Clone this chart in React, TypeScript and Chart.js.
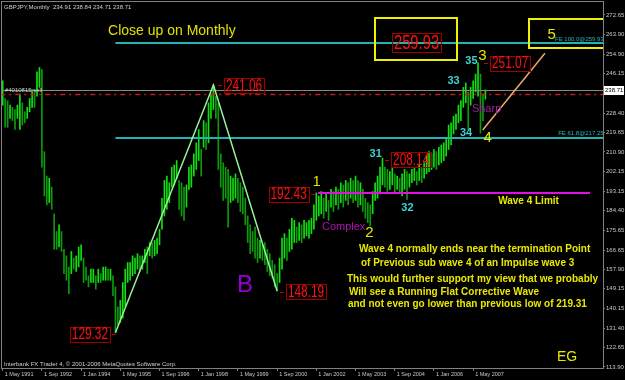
import React, { useEffect, useRef } from "react";
import { Chart, registerables } from "chart.js";
Chart.register(...registerables);

// Monthly GBPJPY bars, index 0 = May 1991
const highs = [
  243, 235, 234, 232, 231, 230, 232, 237, 233, 229, 231, 235, 239, 238, 247, 249, 248,
  211, 200, 199, 195, 183, 175, 178, 175, 167, 164, 159, 166, 163, 164, 168, 169,
  163, 159, 155, 158, 158, 155, 158, 156, 159, 159, 158, 158, 155, 150, 141, 144,
  152, 158, 161, 161, 164, 163, 165, 164, 164, 167, 168, 170, 170, 171, 172, 176,
  190, 198, 200, 197, 204, 205, 207, 198, 197, 195, 196, 204, 205, 210, 215, 221,
  212, 225, 224, 233, 237, 241.06, 236, 233, 210, 206, 204, 203, 200, 199, 201, 199,
  197, 195, 190, 182, 178, 175, 177, 172, 171, 169, 170, 167, 165, 162, 160, 156,
  163, 172, 174, 172, 176, 181, 180, 177, 179, 178, 180, 179, 180, 181, 187, 192.43,
  191, 193, 190, 192, 189, 194, 193, 195, 194, 197, 196, 198, 197, 199, 198, 200,
  198, 197, 194, 190, 188, 187, 193, 197, 200, 204, 208.14, 204, 203, 202, 204, 201,
  200, 199, 201, 203, 202, 201, 203, 204, 202, 205, 204, 206, 209, 211, 210, 212,
  211, 213, 214, 215, 217, 223, 224, 227, 228, 232, 234, 240, 242, 238, 240, 243,
  246, 251.07, 246, 237, 238.84,
];
const lows = [
  232, 222, 222, 226, 225, 221, 226, 221, 223, 224, 226, 229, 231, 231, 236, 240, 204,
  191, 187, 188, 185, 167, 167, 168, 166, 156, 153, 147, 156, 158, 157, 159, 162,
  152, 153, 150, 152, 152, 149, 152, 152, 153, 153, 153, 153, 146, 129.32, 133, 134,
  136, 141, 152, 153, 155, 156, 158, 157, 158, 161, 156, 164, 163, 164, 165, 169,
  176, 182, 185, 188, 195, 196, 199, 185, 182, 180, 186, 194, 195, 200, 203, 207,
  200, 213, 212, 215, 226, 230, 226, 203, 195, 189, 190, 177, 188, 189, 190, 188,
  184, 183, 178, 170, 165, 166, 163, 161, 163, 162, 160, 157, 155, 154, 150, 148.19,
  152, 158, 163, 162, 166, 167, 170, 170, 171, 170, 172, 173, 172, 174, 176, 180,
  182, 183, 181, 184, 180, 186, 184, 187, 185, 188, 186, 189, 187, 190, 188, 189,
  186, 187, 184, 181, 179, 177.5, 183, 189, 190, 192, 196, 195, 193, 194, 196, 192,
  194, 192, 191, 194, 189.5, 195, 197, 198, 196, 198, 197, 199, 201, 202, 203, 204,
  203, 205, 206, 207, 209, 212, 214, 219, 221, 224, 225, 231, 233, 221, 232, 235,
  238, 236, 219.31, 225, 234.71,
];

const xTickIdx = [0, 16, 32, 48, 64, 80, 96, 112, 128, 144, 160, 176, 192];
const xTickLabels = [
  "1 May 1991", "1 Sep 1992", "1 Jan 1994", "1 May 1995", "1 Sep 1996", "1 Jan 1998",
  "1 May 1999", "1 Sep 2000", "1 Jan 2002", "1 May 2003", "1 Sep 2004", "1 Jan 2006", "1 May 2007",
];
const yTickVals = [272.65, 263.9, 254.9, 246.15, 237.4, 228.4, 219.65, 210.9, 202.15, 193.15, 184.4, 175.65, 166.65, 157.9, 149.15, 140.15, 131.4, 122.65, 113.9];
const yTickLabels = ["272.65", "263.90", "254.90", "246.15", "237.40", "228.40", "219.65", "210.90", "202.15", "193.15", "184.40", "175.65", "166.65", "157.90", "149.15", "140.15", "131.40", "122.65", "113.90"];

const bidPrice = 238.71;
const header = "GBPJPY,Monthly  234.91 238.84 234.71 238.71";
const copyright = "Interbank FX Trader 4, \u00a9 2001-2006 MetaQuotes Software Corp.";

// horizontal lines: [fromIdx, toIdx, price, color, width, dash]
const hLines: [number, number, number, string, number, number[]][] = [
  [-1, 246, 238.71, "#8a8a8a", 1, []],
  [-1, 246, 237.0, "#c41a1a", 1.5, [5, 4, 2, 4]],
  [46, 246, 259.93, "#1fb5b5", 2, []],
  [46, 246, 217.25, "#1fb5b5", 2, []],
  [128.7, 239.7, 192.43, "#e010e0", 2, []],
];
const waveLine: [number, number][] = [[46, 129.32], [86, 241.06], [112, 148.19]];
const projLine: [number, number][] = [[195.9, 220.8], [221.3, 255.4]];
// yellow boxes: [idx1, price1, idx2, price2]
const boxes: [number, number, number, number][] = [
  [152.0, 271.3, 185.4, 252.4],
  [214.8, 270.85, 250, 257.9],
];
// red price labels: [text, idx, price, fontPx, dashSide]
const redLabels: [string, number, number, number, string][] = [
  ["259.93", 168.9, 260.25, 20, ""],
  ["251.07", 207.1, 250.99, 16, "left"],
  ["241.06", 98.5, 240.85, 16, "left"],
  ["208.14", 166.7, 207.47, 16, "left"],
  ["192.43", 116.7, 191.91, 16, "right"],
  ["148.19", 123.8, 147.93, 16, "left"],
  ["129.32", 35.6, 128.76, 16, "right"],
];
// texts: [text, idx, price, font, color, align]
const texts: [string, number, number, string, string, string][] = [
  ["Close up on Monthly", 43.0, 265.43, "14px", "#e0e000", "left"],
  ["B", 95.6, 150.64, "24px", "#9400d3", "left"],
  ["Complex", 130.3, 177.03, "11px", "#b010b0", "left"],
  ["Sharp", 191.5, 230.25, "11px", "#a020a0", "left"],
  ["Wave 4 Limit", 202.2, 188.75, "bold 10px", "#e8e800", "left"],
  ["Wave 4 normally ends near the termination Point", 145.4, 167.1, "bold 10px", "#e8e800", "left"],
  ["of Previous sub wave 4 of an Impulse wave 3", 146.2, 160.79, "bold 10px", "#e8e800", "left"],
  ["This would further support my view that we probably", 140.5, 153.57, "bold 10px", "#e8e800", "left"],
  ["Will see a Running Flat Corrective Wave", 141.3, 147.71, "bold 10px", "#e8e800", "left"],
  ["and not even go lower than previous low of 219.31", 140.9, 142.3, "bold 10px", "#e8e800", "left"],
  ["EG", 226.2, 118.39, "14px", "#e8e800", "left"],
  ["1", 128.1, 197.32, "14px", "#e8e800", "center"],
  ["2", 149.7, 174.54, "15px", "#e8e800", "center"],
  ["3", 195.8, 254.16, "15px", "#e8e800", "center"],
  ["4", 197.9, 217.4, "15px", "#e8e800", "center"],
  ["5", 224.0, 263.85, "15px", "#e8e800", "center"],
  ["31", 152.2, 210.18, "bold 11px", "#3cd2d2", "center"],
  ["32", 165.2, 185.6, "bold 11px", "#3cd2d2", "center"],
  ["33", 184.0, 242.88, "bold 11px", "#3cd2d2", "center"],
  ["34", 189.1, 219.43, "bold 11px", "#3cd2d2", "center"],
  ["35", 191.3, 251.9, "bold 11px", "#3cd2d2", "center"],
  ["FE 100.0@259.93", 225.4, 261.6, "6px", "#20b8b8", "left"],
  ["FE 61.8@217.25", 226.7, 219.43, "6px", "#20b8b8", "left"],
  ["#4010815 sell", 0.9, 238.82, "6px", "#d0d0d0", "left"],
];

const FONT = '"Liberation Sans", Arial, sans-serif';

const annotPlugin = {
  id: "annot",
  beforeDraw(chart: any) {
    const { ctx, width, height } = chart;
    ctx.save();
    ctx.fillStyle = "#000000";
    ctx.fillRect(0, 0, width, height);
    ctx.restore();
  },
  afterDatasetsDraw(chart: any) {
    const { ctx, chartArea: ca, scales } = chart;
    const X = (i: number) => scales.x.getPixelForValue(i);
    const Y = (p: number) => scales.y.getPixelForValue(p);
    ctx.save();
    ctx.beginPath();
    ctx.rect(ca.left, ca.top, ca.right - ca.left, ca.bottom - ca.top);
    ctx.clip();

    for (const [a, b, p, c, w, d] of hLines) {
      ctx.strokeStyle = c;
      ctx.lineWidth = w;
      ctx.setLineDash(d);
      const y = Math.round(Y(p)) + (w % 2 ? 0.5 : 0);
      ctx.beginPath();
      ctx.moveTo(X(a), y);
      ctx.lineTo(X(b), y);
      ctx.stroke();
    }
    ctx.setLineDash([]);
    const poly = (pts: [number, number][], c: string, w: number) => {
      ctx.strokeStyle = c;
      ctx.lineWidth = w;
      ctx.beginPath();
      pts.forEach(([i, p], k) => (k ? ctx.lineTo(X(i), Y(p)) : ctx.moveTo(X(i), Y(p))));
      ctx.stroke();
    };
    poly(waveLine, "#98f098", 1.5);
    poly(projLine, "#f0a868", 1.5);

    ctx.strokeStyle = "#f0f000";
    ctx.lineWidth = 2;
    for (const [i1, p1, i2, p2] of boxes) {
      ctx.strokeRect(Math.round(X(i1)), Math.round(Y(p1)), Math.round(X(i2) - X(i1)), Math.round(Y(p2) - Y(p1)));
    }

    for (const [s, i, p, size, side] of redLabels) {
      const cx = X(i), cy = Y(p);
      ctx.font = `${size}px ${FONT}`;
      const sx = 0.74;
      const w = ctx.measureText(s).width * sx;
      const bw = Math.round(w + 4), bh = size - 1;
      const bx = Math.round(cx - bw / 2), by = Math.round(cy - bh / 2);
      ctx.strokeStyle = "#a00000";
      ctx.lineWidth = 1;
      ctx.strokeRect(bx + 0.5, by + 0.5, bw, bh);
      ctx.save();
      ctx.translate(cx, cy + 1);
      ctx.scale(sx, 1);
      ctx.fillStyle = "#ff1010";
      ctx.textAlign = "center";
      ctx.textBaseline = "middle";
      ctx.fillText(s, 0, 0);
      ctx.restore();
      if (side) {
        ctx.strokeStyle = "#c00000";
        ctx.beginPath();
        const yy = Math.round(cy) + 0.5;
        if (side === "left") { ctx.moveTo(bx - 6, yy); ctx.lineTo(bx - 2, yy); }
        else { ctx.moveTo(bx + bw + 2, yy); ctx.lineTo(bx + bw + 6, yy); }
        ctx.stroke();
      }
    }

    for (const [s, i, p, f, c, al] of texts) {
      ctx.font = `${f} ${FONT}`;
      ctx.fillStyle = c;
      ctx.textAlign = al as CanvasTextAlign;
      ctx.textBaseline = "middle";
      ctx.fillText(s, X(i), Y(p));
    }

    ctx.font = `6px ${FONT}`;
    ctx.fillStyle = "#d0d0d0";
    ctx.textAlign = "left";
    ctx.textBaseline = "middle";
    ctx.fillText(header, ca.left + 2, ca.top + 5);
    ctx.fillText(copyright, ca.left + 2, ca.bottom - 4);
    ctx.restore();

    // frame
    ctx.save();
    ctx.strokeStyle = "#808080";
    ctx.lineWidth = 1;
    ctx.strokeRect(ca.left - 0.5, ca.top - 0.5, ca.right - ca.left + 1, ca.bottom - ca.top + 1);
    // bid label on axis
    const by = Math.round(Y(bidPrice));
    ctx.fillStyle = "#ffffff";
    ctx.fillRect(ca.right + 1, by - 4, 20, 9);
    ctx.fillStyle = "#000000";
    ctx.font = `6px ${FONT}`;
    ctx.textAlign = "left";
    ctx.textBaseline = "middle";
    ctx.fillText(bidPrice.toFixed(2), ca.right + 2, by + 0.5);
    ctx.restore();
  },
};

export default function App() {
  const ref = useRef<HTMLCanvasElement>(null);
  useEffect(() => {
    document.body.style.margin = "0";
    document.body.style.background = "#000";
    const barColors = highs.map((h, i) =>
      i === 0 || h + lows[i] >= highs[i - 1] + lows[i - 1] ? "#10e010" : "#0c9a0c"
    );
    const chart = new Chart(ref.current!, {
      type: "bar",
      data: {
        datasets: [
          {
            data: highs.map((h, i) => ({ x: i, y: [lows[i], h] })) as any,
            backgroundColor: barColors,
            borderWidth: 0,
            barThickness: 1,
          },
        ],
      },
      options: {
        animation: false,
        responsive: false,
        layout: { padding: { top: 2, left: 2, right: 0, bottom: 0 } },
        plugins: { legend: { display: false }, tooltip: { enabled: false } },
        scales: {
          x: {
            type: "linear",
            offset: false,
            min: -0.29,
            max: 245,
            afterBuildTicks: (s: any) => { s.ticks = xTickIdx.map((v) => ({ value: v })); },
            afterFit: (s: any) => { s.height = 12; s.paddingLeft = 0; s.paddingRight = 0; },
            grid: { offset: false, drawOnChartArea: false, drawTicks: true, tickLength: 3, color: "#808080" },
            border: { display: true, color: "#808080" },
            ticks: {
              autoSkip: false,
              maxRotation: 0,
              align: "start",
              labelOffset: 2,
              padding: 0,
              color: "#c8c8c8",
              font: { size: 5.5, family: FONT },
              callback: (_v: any, i: number) => xTickLabels[i],
            },
          },
          y: {
            position: "right",
            min: 113.43,
            max: 278.51,
            afterBuildTicks: (s: any) => { s.ticks = yTickVals.map((v) => ({ value: v })); },
            afterFit: (s: any) => { s.width = 22; s.paddingTop = 0; s.paddingBottom = 0; },
            grid: { drawOnChartArea: false, drawTicks: true, tickLength: 2, color: "#808080" },
            border: { display: true, color: "#808080" },
            ticks: {
              padding: 1,
              color: "#c8c8c8",
              font: { size: 6, family: FONT },
              callback: (_v: any, i: number) => yTickLabels[i],
            },
          },
        },
      },
      plugins: [annotPlugin],
    } as any);
    return () => chart.destroy();
  }, []);
  return (
    <div style={{ width: 625, height: 380 }}>
      <canvas ref={ref} width={625} height={380} style={{ display: "block" }} />
    </div>
  );
}
